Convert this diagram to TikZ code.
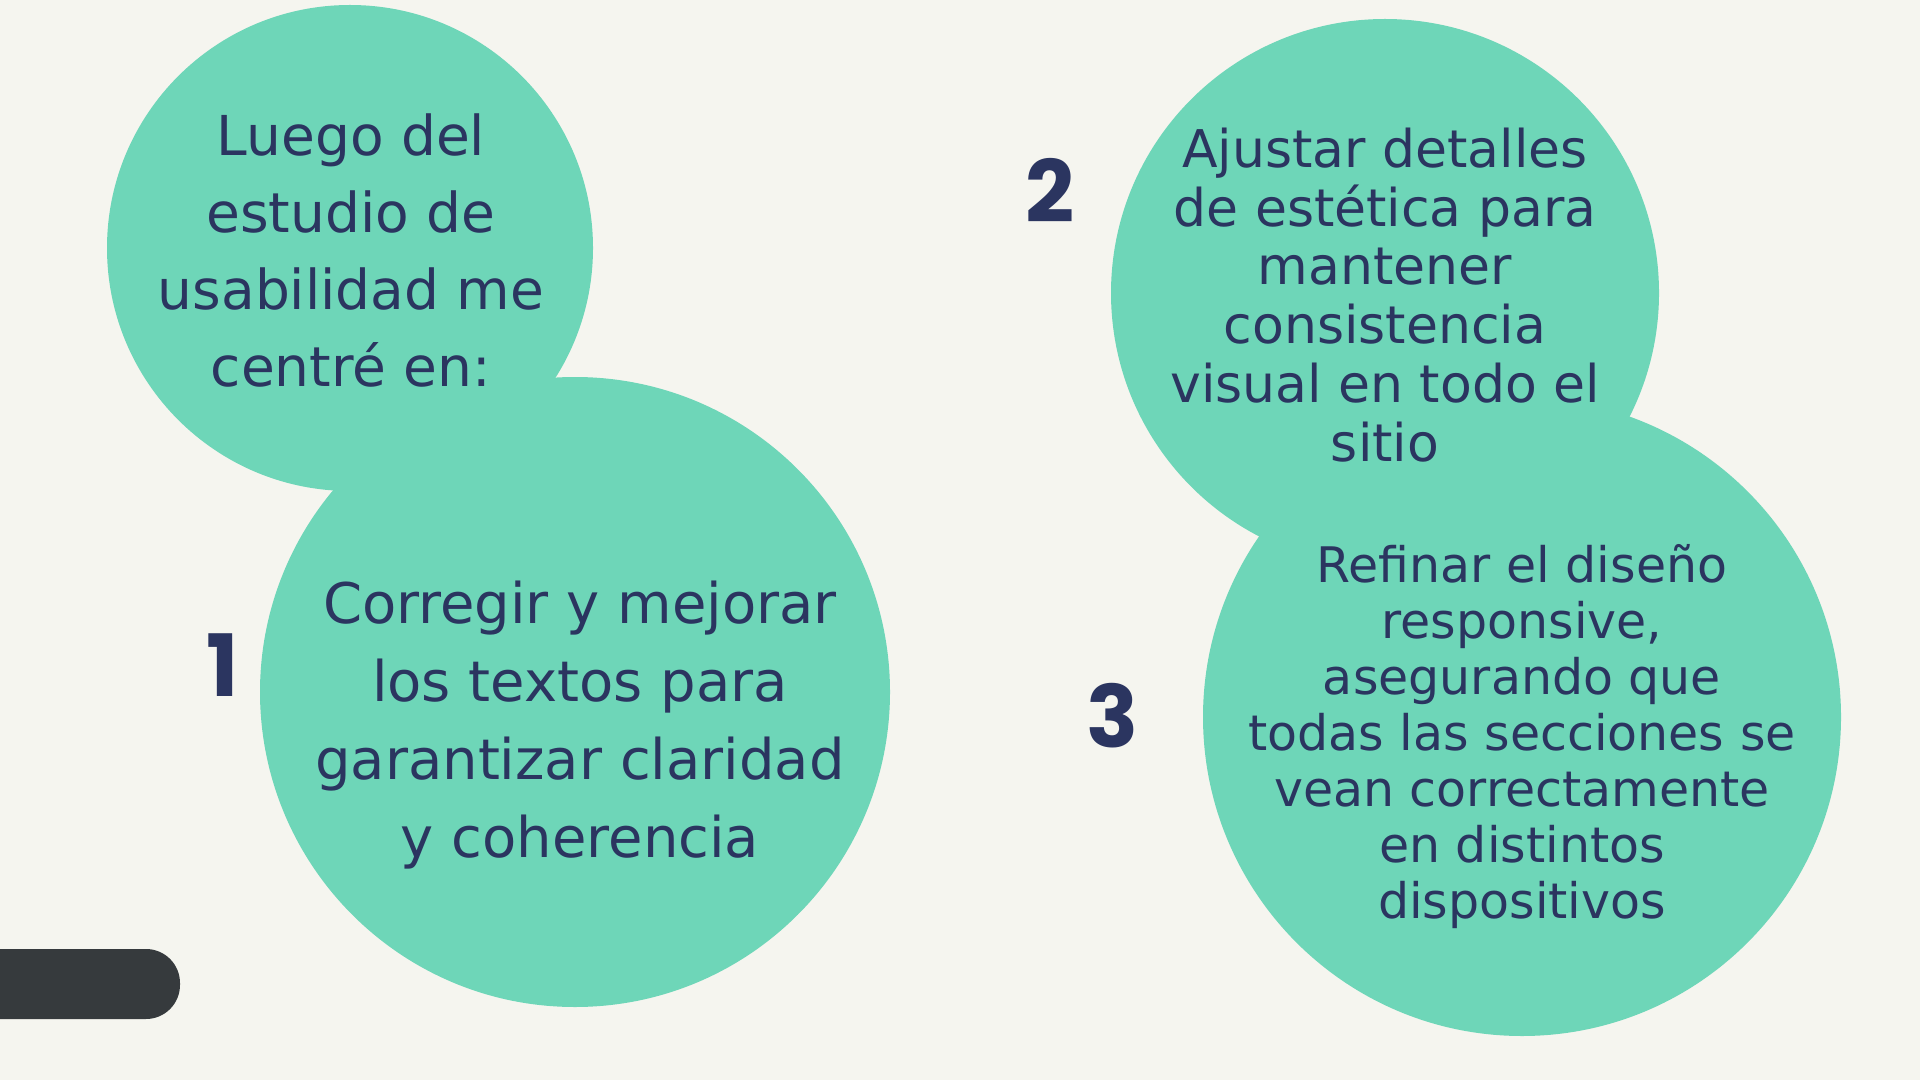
\documentclass[tikz,border=0pt]{standalone}
\usepackage{fontspec}
\setmainfont{DejaVu Sans}
\newfontfamily\numfont{Poppins}
\definecolor{bgc}{HTML}{F5F5EF}
\definecolor{mint}{HTML}{6ED6B8}
\definecolor{navy}{HTML}{2B3560}
\definecolor{barc}{HTML}{363A3D}
\tikzset{
  blob/.style={circle, fill=mint, inner sep=0pt, minimum size=#1},
  txt/.style={text=navy, align=center, inner sep=0pt},
  num/.style={text=navy, inner sep=0pt, font=\numfont\bfseries\fontsize{43}{43}\selectfont},
}
\begin{document}
\begin{tikzpicture}[x=0.5pt,y=-0.5pt]
\useasboundingbox (0,0) rectangle (1920,1080);
\fill[bgc] (0,0) rectangle (1920,1080);
% circles
\node[blob=486*0.5pt] (cA) at (350,248) {};
\node[blob=630*0.5pt] (c1) at (575,692) {};
\node[blob=548*0.5pt] (c2) at (1385,293) {};
\node[blob=638*0.5pt] (c3) at (1522,717) {};
% bar
\fill[barc, rounded corners=17pt] (-60,949) rectangle (180,1019);
% texts
\node[txt, font=\fontsize{27.5}{38.5}\selectfont] (tA) at (351,250)
  {Luego del\\estudio de\\usabilidad me\\centré en:};
\node[txt, font=\fontsize{28}{39}\selectfont] (t1) at (580,725)
  {Corregir y mejorar\\los textos para\\garantizar claridad\\y coherencia};
\node[txt, font=\fontsize{26}{29.4}\selectfont] (t2) at (1385,295)
  {Ajustar detalles\\de estética para\\mantener\\consistencia\\visual en todo el\\sitio};
\node[txt, font=\fontsize{24.5}{28}\selectfont] (t3) at (1522,737)
  {Refinar el diseño\\responsive,\\asegurando que\\todas las secciones se\\vean correctamente\\en distintos\\dispositivos};
% numbers
\node[num] (n1) at (223,665) {1};
\node[num] (n2) at (1050,190) {2};
\node[num] (n3) at (1112,716) {3};
\end{tikzpicture}
\end{document}
